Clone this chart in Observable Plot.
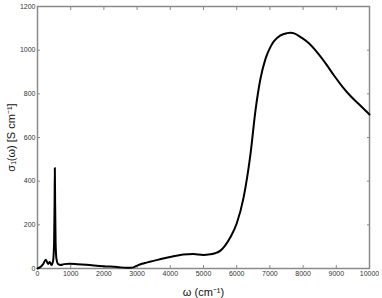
<!DOCTYPE html>
<html><head><meta charset="utf-8">
<script src="https://cdn.jsdelivr.net/npm/d3@7"></script>
<script src="https://cdn.jsdelivr.net/npm/@observablehq/plot@0.6"></script>
<style>body{margin:0;background:#fff}</style>
</head><body><div id="chart"></div>
<script>
const omega = [0,70,170,250,320,370,420,470,500,515,522,530,545,570,622,700,800,974,1200,1476,1978,2400,2680,2850,2982,3150,3283,3500,3785,4100,4388,4690,4990,5200,5350,5510,5650,5810,6000,6210,6416,6566,6717,6867,7018,7118,7319,7520,7620,7750,7922,8150,8424,8700,8926,9200,9428,9700,10000];
const sigma = [0,5,20,40,21,30,16,35,120,300,460,320,120,45,20,16,20,22,20,17,10,7,3,4,12,22,27,35,46,56,64,66,62,65,70,82,105,143,206,327,525,724,870,960,1015,1040,1068,1078,1080,1076,1060,1035,990,935,885,830,790,750,705];
const xTicks = [0,1000,2000,3000,4000,5000,6000,7000,8000,9000,10000];
const yTicks = [0,200,400,600,800,1000,1200];
const data = omega.map((w,i)=>({w, s: sigma[i]}));
const grey = "#8a8a8a";
const fmt = d3.format("d");
const chart = Plot.plot({
  width: 382, height: 298,
  marginLeft: 37, marginRight: 13, marginTop: 6, marginBottom: 30,
  style: {fontFamily: "'Liberation Sans', Arial, sans-serif", fontSize: "7px", color: "#333", background: "#fff"},
  x: {domain: [0, 10000]},
  y: {domain: [0, 1200]},
  marks: [
    Plot.axisX(xTicks, {anchor: "bottom", tickSize: -3, tickPadding: 6, stroke: grey, tickFormat: fmt, label: "ω (cm⁻¹)", labelArrow: "none", labelAnchor: "center", labelOffset: 27}),
    Plot.axisX(xTicks, {anchor: "top", tickSize: -3, tickFormat: () => "", stroke: grey, label: null}),
    Plot.axisY(yTicks, {anchor: "left", tickSize: -3, tickPadding: 5, stroke: grey, tickFormat: fmt, label: "σ₁(ω) [S cm⁻¹]", labelArrow: "none", labelAnchor: "center", labelOffset: 30}),
    Plot.axisY(yTicks, {anchor: "right", tickSize: -3, tickFormat: () => "", stroke: grey, label: null}),
    Plot.frame({stroke: grey, strokeWidth: 1.5}),
    Plot.line(data, {x: "w", y: "s", stroke: "#000", strokeWidth: 2, curve: "monotone-x"})
  ]
});
chart.querySelectorAll("[aria-label$='axis label']").forEach(el => { el.setAttribute("font-size", "11px"); el.setAttribute("fill", "#111"); });
document.getElementById("chart").appendChild(chart);
</script>
</body></html>
